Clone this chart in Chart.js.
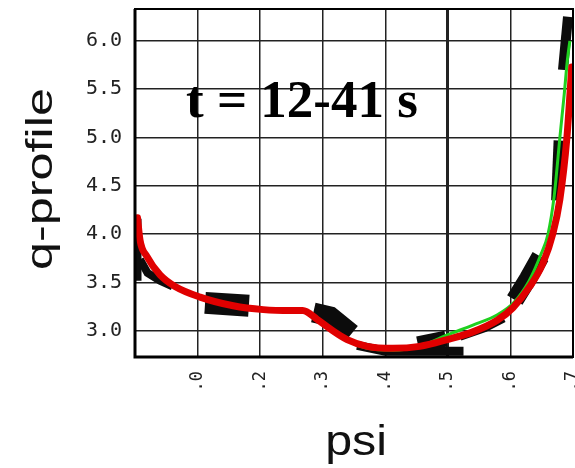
<!DOCTYPE html>
<html>
<head>
<meta charset="utf-8">
<script src="https://cdn.jsdelivr.net/npm/chart.js@4.4.1/dist/chart.umd.min.js"></script>
<style>
  html, body { margin: 0; padding: 0; background: #fff; }
  #wrap { width: 575px; height: 468px; }
</style>
</head>
<body>
<div id="wrap"><canvas id="qChart"></canvas></div>
<script>
// tick values / labels
const xTicks = [0, 0.1, 0.2, 0.3, 0.4, 0.5, 0.6, 0.7];
const xTickLabels = ["", ".0", ".2", ".3", ".4", ".5", ".6", ".7"];
const yTicks = [3.0, 3.5, 4.0, 4.5, 5.0, 5.5, 6.0];

// red fit
const redPsi = [0.004, 0.008, 0.019, 0.040, 0.064, 0.104, 0.157, 0.205, 0.248, 0.268, 0.291, 0.312, 0.339, 0.371, 0.412, 0.455, 0.499, 0.540, 0.579, 0.604, 0.631, 0.652, 0.668, 0.679, 0.690, 0.698];
const redQ   = [4.17, 3.94, 3.77, 3.58, 3.46, 3.35, 3.26, 3.22, 3.21, 3.21, 3.12, 3.02, 2.91, 2.84, 2.82, 2.84, 2.91, 2.99, 3.11, 3.24, 3.46, 3.70, 4.01, 4.36, 4.98, 5.73];

// green fit
const greenPsi = [0.006, 0.019, 0.040, 0.064, 0.104, 0.157, 0.205, 0.248, 0.268, 0.291, 0.312, 0.339, 0.371, 0.412, 0.455, 0.500, 0.540, 0.580, 0.605, 0.630, 0.648, 0.660, 0.670, 0.679, 0.686, 0.691, 0.695];
const greenQ   = [3.95, 3.78, 3.59, 3.47, 3.36, 3.27, 3.23, 3.22, 3.22, 3.12, 3.02, 2.90, 2.82, 2.80, 2.84, 2.96, 3.06, 3.17, 3.29, 3.52, 3.78, 4.00, 4.40, 5.00, 5.45, 5.80, 6.00];

// measured clusters (black)
const measEdge  = [[0.004, 4.16], [0.004, 3.52]];
const measTail  = [[0.008, 3.74], [0.02, 3.60], [0.04, 3.52], [0.06, 3.46]];
const measB     = [[0.112, 3.29], [0.182, 3.26]];
const measC     = [[0.285, 3.19], [0.312, 3.15], [0.346, 2.97]];
const measD     = [[0.355, 2.85], [0.400, 2.79], [0.450, 2.79], [0.525, 2.79]];
const measD2    = [[0.452, 2.86], [0.497, 2.92]];
const measE     = [[0.520, 2.93], [0.560, 3.02], [0.590, 3.12]];
const measF     = [[0.607, 3.32], [0.628, 3.54], [0.648, 3.77]];
const measG1    = [[0.673, 4.35], [0.677, 4.97]];
const measG2    = [[0.684, 5.70], [0.692, 6.25]];

const pts = (xs, ys) => xs.map((x, i) => ({ x: x, y: ys[i] }));
const pairs = a => a.map(p => ({ x: p[0], y: p[1] }));

function blob(data, w) {
  return {
    data: pairs(data), showLine: true, borderColor: "#0c0c0c", backgroundColor: "#0c0c0c",
    borderWidth: w, pointRadius: 0, tension: 0, borderCapStyle: "butt"
  };
}

function noPad(s) {
  s.paddingLeft = 0; s.paddingRight = 0; s.paddingTop = 0; s.paddingBottom = 0;
}

const textPlugin = {
  id: "texts",
  afterDraw(chart) {
    const c = chart.ctx;
    const a = chart.chartArea;
    // frame
    c.save();
    c.strokeStyle = "#000";
    c.lineWidth = 2;
    c.strokeRect(a.left, a.top, a.right - a.left, a.bottom - a.top);
    c.lineWidth = 3;
    c.beginPath();
    c.moveTo(a.left, a.top);
    c.lineTo(a.left, a.bottom);
    c.lineTo(a.right, a.bottom);
    c.stroke();
    c.restore();

    c.save();
    c.fillStyle = "#111";
    c.translate(52, 179);
    c.rotate(-Math.PI / 2);
    c.scale(1.36, 1);
    c.font = '37px "Liberation Sans", Arial, sans-serif';
    c.textAlign = "center";
    c.textBaseline = "alphabetic";
    c.fillText("q-profile", 0, 0);
    c.restore();

    c.save();
    c.fillStyle = "#111";
    c.translate(356, 455);
    c.scale(1.15, 1);
    c.font = '42px "Liberation Sans", Arial, sans-serif';
    c.textAlign = "center";
    c.fillText("psi", 0, 0);
    c.restore();

    c.save();
    c.fillStyle = "#000";
    c.font = 'bold 53px "Liberation Serif", "Times New Roman", serif';
    c.textAlign = "left";
    c.fillText("t = 12-41 s", 186, 117);
    c.restore();
  }
};

new Chart(document.getElementById("qChart"), {
  type: "scatter",
  data: {
    datasets: [
      { data: pts(redPsi, redQ), showLine: true, borderColor: "#e00000", borderWidth: 7,
        pointRadius: 0, cubicInterpolationMode: "monotone", borderCapStyle: "round" },
      { data: pts(greenPsi, greenQ), showLine: true, borderColor: "#1fd01f", borderWidth: 3,
        pointRadius: 0, cubicInterpolationMode: "monotone" },
      blob(measEdge, 8),
      blob(measTail, 8),
      blob(measB, 22),
      blob(measC, 20),
      blob(measD, 9),
      blob(measD2, 16),
      blob(measE, 6),
      blob(measF, 18),
      blob(measG1, 10),
      blob(measG2, 10)
    ]
  },
  options: {
    responsive: true,
    maintainAspectRatio: false,
    animation: false,
    layout: { padding: { left: 0, right: 2, top: 9, bottom: 0 } },
    plugins: { legend: { display: false }, tooltip: { enabled: false } },
    scales: {
      x: {
        type: "linear", min: 0, max: 0.7,
        afterBuildTicks: s => { s.ticks = xTicks.map(v => ({ value: v })); },
        afterFit: s => { s.height = 111; noPad(s); },
        grid: {
          color: "#222",
          lineWidth: ctx => (ctx.tick && Math.abs(ctx.tick.value - 0.5) < 1e-6 ? 3 : 1.5),
          drawTicks: false
        },
        border: { display: false },
        ticks: {
          minRotation: 90, maxRotation: 90, padding: 14, color: "#222",
          font: { family: '"DejaVu Sans Mono", monospace', size: 17 },
          callback: (v, i) => xTickLabels[i]
        }
      },
      y: {
        type: "linear", min: 2.73, max: 6.33,
        afterBuildTicks: s => { s.ticks = yTicks.map(v => ({ value: v })); },
        afterFit: s => { s.width = 135; noPad(s); },
        grid: { color: "#222", lineWidth: 1.5, drawTicks: false },
        border: { display: false },
        ticks: {
          padding: 13, color: "#222",
          font: { family: '"DejaVu Sans Mono", monospace', size: 20 },
          callback: v => v.toFixed(1)
        }
      }
    }
  },
  plugins: [textPlugin]
});
</script>
</body>
</html>
